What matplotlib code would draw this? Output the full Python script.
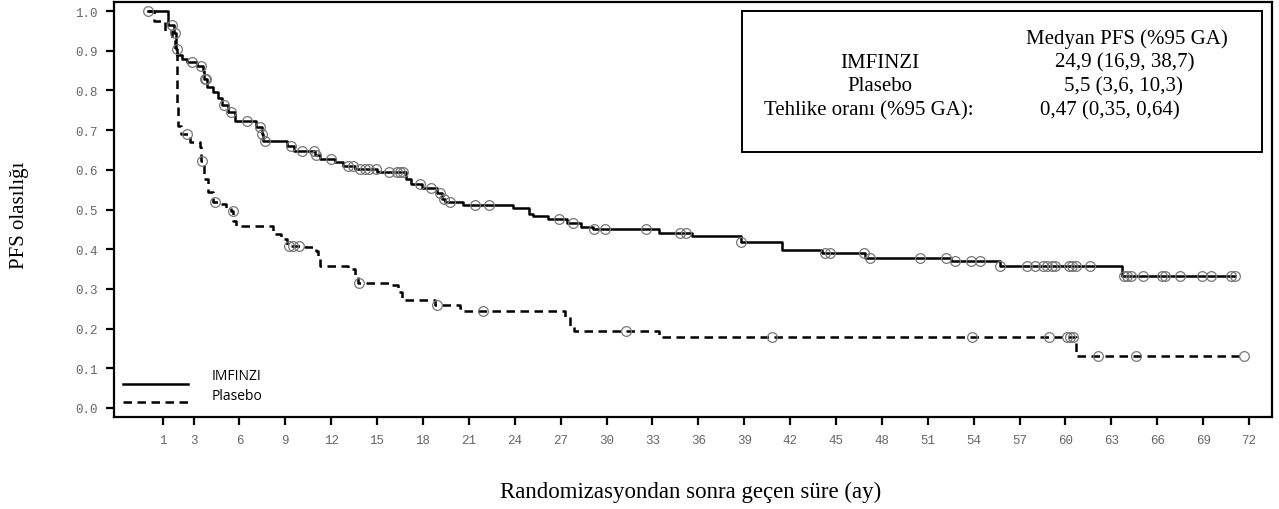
import matplotlib
matplotlib.use("Agg")
import matplotlib.pyplot as plt
from matplotlib.patches import Rectangle
import numpy as np

# IMFINZI Kaplan-Meier steps (month, survival after step)
imf_t = [0.0, 1.33, 1.7, 1.87, 1.95, 2.25, 2.6, 3.2, 3.6, 3.7, 3.85, 4.25, 4.6, 4.85,
         5.25, 5.7, 7.1, 7.45, 7.55, 9.1, 9.6, 10.95, 11.3, 12.25, 12.8, 13.55, 15.0,
         16.9, 17.2, 17.95, 18.9, 19.25, 19.45, 20.6, 23.9, 24.9, 25.2, 26.2, 27.4,
         28.3, 29.1, 33.4, 35.6, 38.8, 41.5, 44.1, 46.9, 52.5, 55.7, 63.7, 71.1]
imf_s = [1.0, 0.965, 0.945, 0.905, 0.89, 0.88, 0.871, 0.862, 0.85, 0.83, 0.81, 0.795,
         0.782, 0.763, 0.745, 0.723, 0.708, 0.69, 0.673, 0.66, 0.648, 0.637, 0.627,
         0.619, 0.61, 0.602, 0.595, 0.577, 0.564, 0.553, 0.541, 0.526, 0.518, 0.511,
         0.503, 0.489, 0.483, 0.475, 0.466, 0.457, 0.45, 0.442, 0.434, 0.418, 0.398,
         0.39, 0.379, 0.369, 0.358, 0.333, 0.333]
imf_cens = [0.0, 1.6, 1.8, 1.9, 2.9, 3.5, 3.75, 3.8, 5.0, 5.45, 6.5, 7.35, 7.5, 7.7,
            9.35, 10.1, 10.9, 11.0, 12.0, 13.1, 13.4, 13.9, 14.2, 14.5, 14.9, 15.8,
            16.3, 16.5, 16.7, 17.8, 18.5, 19.1, 19.4, 19.8, 21.4, 22.3, 26.9, 27.8,
            29.2, 29.9, 32.6, 34.8, 35.2, 38.8, 44.3, 44.6, 46.8, 47.2, 50.5, 52.2,
            52.8, 53.8, 54.4, 55.7, 57.5, 58.0, 58.5, 58.8, 59.1, 59.3, 60.2, 60.4,
            60.7, 61.6, 63.8, 64.0, 64.3, 65.1, 66.3, 66.5, 67.5, 68.9, 69.5, 70.8, 71.1]

# Plasebo steps
pla_t = [0.0, 0.45, 1.15, 1.6, 1.8, 1.9, 1.95, 2.0, 2.2, 2.8, 3.4, 3.5, 3.7, 3.95,
         4.3, 4.8, 5.1, 5.45, 5.6, 5.8, 8.2, 8.75, 9.1, 10.3, 11.0, 11.15, 11.3, 13.1,
         13.55, 13.75, 15.8, 16.35, 16.6, 18.8, 20.4, 20.6, 27.3, 27.6, 27.9, 33.4,
         60.7, 71.7]
pla_s = [1.0, 0.975, 0.95, 0.93, 0.905, 0.80, 0.76, 0.71, 0.69, 0.67, 0.657, 0.622,
         0.577, 0.543, 0.52, 0.514, 0.505, 0.495, 0.472, 0.459, 0.438, 0.426, 0.409,
         0.405, 0.396, 0.375, 0.357, 0.35, 0.333, 0.315, 0.31, 0.291, 0.273, 0.259,
         0.252, 0.243, 0.228, 0.207, 0.195, 0.178, 0.132, 0.132]
pla_cens = [2.55, 3.55, 4.4, 5.55, 9.25, 9.5, 9.9, 13.8, 18.9, 21.9, 31.3, 40.8,
            53.9, 58.9, 60.1, 60.3, 60.5, 62.1, 64.6, 71.7]

xticks = [1, 3, 6, 9, 12, 15, 18, 21, 24, 27, 30, 33, 36, 39, 42, 45, 48, 51, 54,
          57, 60, 63, 66, 69, 72]
yticks = [0.0, 0.1, 0.2, 0.3, 0.4, 0.5, 0.6, 0.7, 0.8, 0.9, 1.0]

box_left = ["", "IMFINZI", "Plasebo", "Tehlike oranı (%95 GA):"]
box_right = ["Medyan PFS (%95 GA)", "24,9 (16,9, 38,7)", "5,5 (3,6, 10,3)",
             "0,47 (0,35, 0,64)"]

DASH = (3.4, 2.2)


def surv_at(times, surv, t):
    idx = np.searchsorted(times, t, side="right") - 1
    return np.array(surv)[idx]


fig = plt.figure(figsize=(12.79, 5.10), dpi=100)
ax = fig.add_axes([0.0891, 0.1804, 0.9054, 0.8137])

ax.plot(imf_t, imf_s, drawstyle="steps-post", color="black", lw=1.8)
ax.plot(pla_t, pla_s, drawstyle="steps-post", color="black", lw=1.8, dashes=DASH)

circ = dict(ls="none", marker="o", ms=7, mfc="none", mec="#777777", mew=0.9)
ax.plot(imf_cens, surv_at(imf_t, imf_s, imf_cens), **circ)
ax.plot(pla_cens, surv_at(pla_t, pla_s, pla_cens), **circ)

ax.set_xlim(-2.2, 73.5)
ax.set_ylim(-0.023, 1.023)
ax.set_xticks(xticks)
ax.set_yticks(yticks)
ax.set_yticklabels(["%.1f" % v for v in yticks])
for sp in ax.spines.values():
    sp.set_linewidth(1.6)
ax.tick_params(direction="out", length=6, width=1.6, labelsize=9,
               labelcolor="#666666", pad=6)
for lab in ax.get_xticklabels() + ax.get_yticklabels():
    lab.set_family("Liberation Mono")

# legend (drawn by hand so the text sits above the line, as in the original)
ax.plot([0.008, 0.064], [0.0795, 0.0795], transform=ax.transAxes,
        color="black", lw=1.8)
ax.plot([0.008, 0.064], [0.036, 0.036], transform=ax.transAxes,
        color="black", lw=1.8, dashes=DASH)
ax.text(0.0846, 0.101, "IMFINZI", transform=ax.transAxes, va="center",
        family="Open Sans", fontsize=10)
ax.text(0.0846, 0.0506, "Plasebo", transform=ax.transAxes, va="center",
        family="Open Sans", fontsize=10)

# info box
ax.add_patch(Rectangle((0.542, 0.639), 0.449, 0.339, transform=ax.transAxes,
                       fill=False, lw=1.4, ec="black"))
ys = [0.913, 0.855, 0.798, 0.740]
xl = [None, 0.661, 0.661, 0.652]
xr = [0.875, 0.873, 0.872, 0.860]
for i in range(4):
    if box_left[i]:
        ax.text(xl[i], ys[i], box_left[i], transform=ax.transAxes, ha="center",
                va="center", family="Liberation Serif", fontsize=15)
    ax.text(xr[i], ys[i], box_right[i], transform=ax.transAxes, ha="center",
            va="center", family="Liberation Serif", fontsize=15)

fig.text(0.0156, 0.578, "PFS olasılığı", rotation=90, ha="center", va="center",
         family="Liberation Serif", fontsize=15)
fig.text(0.54, 0.035, "Randomizasyondan sonra geçen süre (ay)", ha="center",
         va="center", family="Liberation Serif", fontsize=16.5)

fig.savefig("out.png", dpi=100)
